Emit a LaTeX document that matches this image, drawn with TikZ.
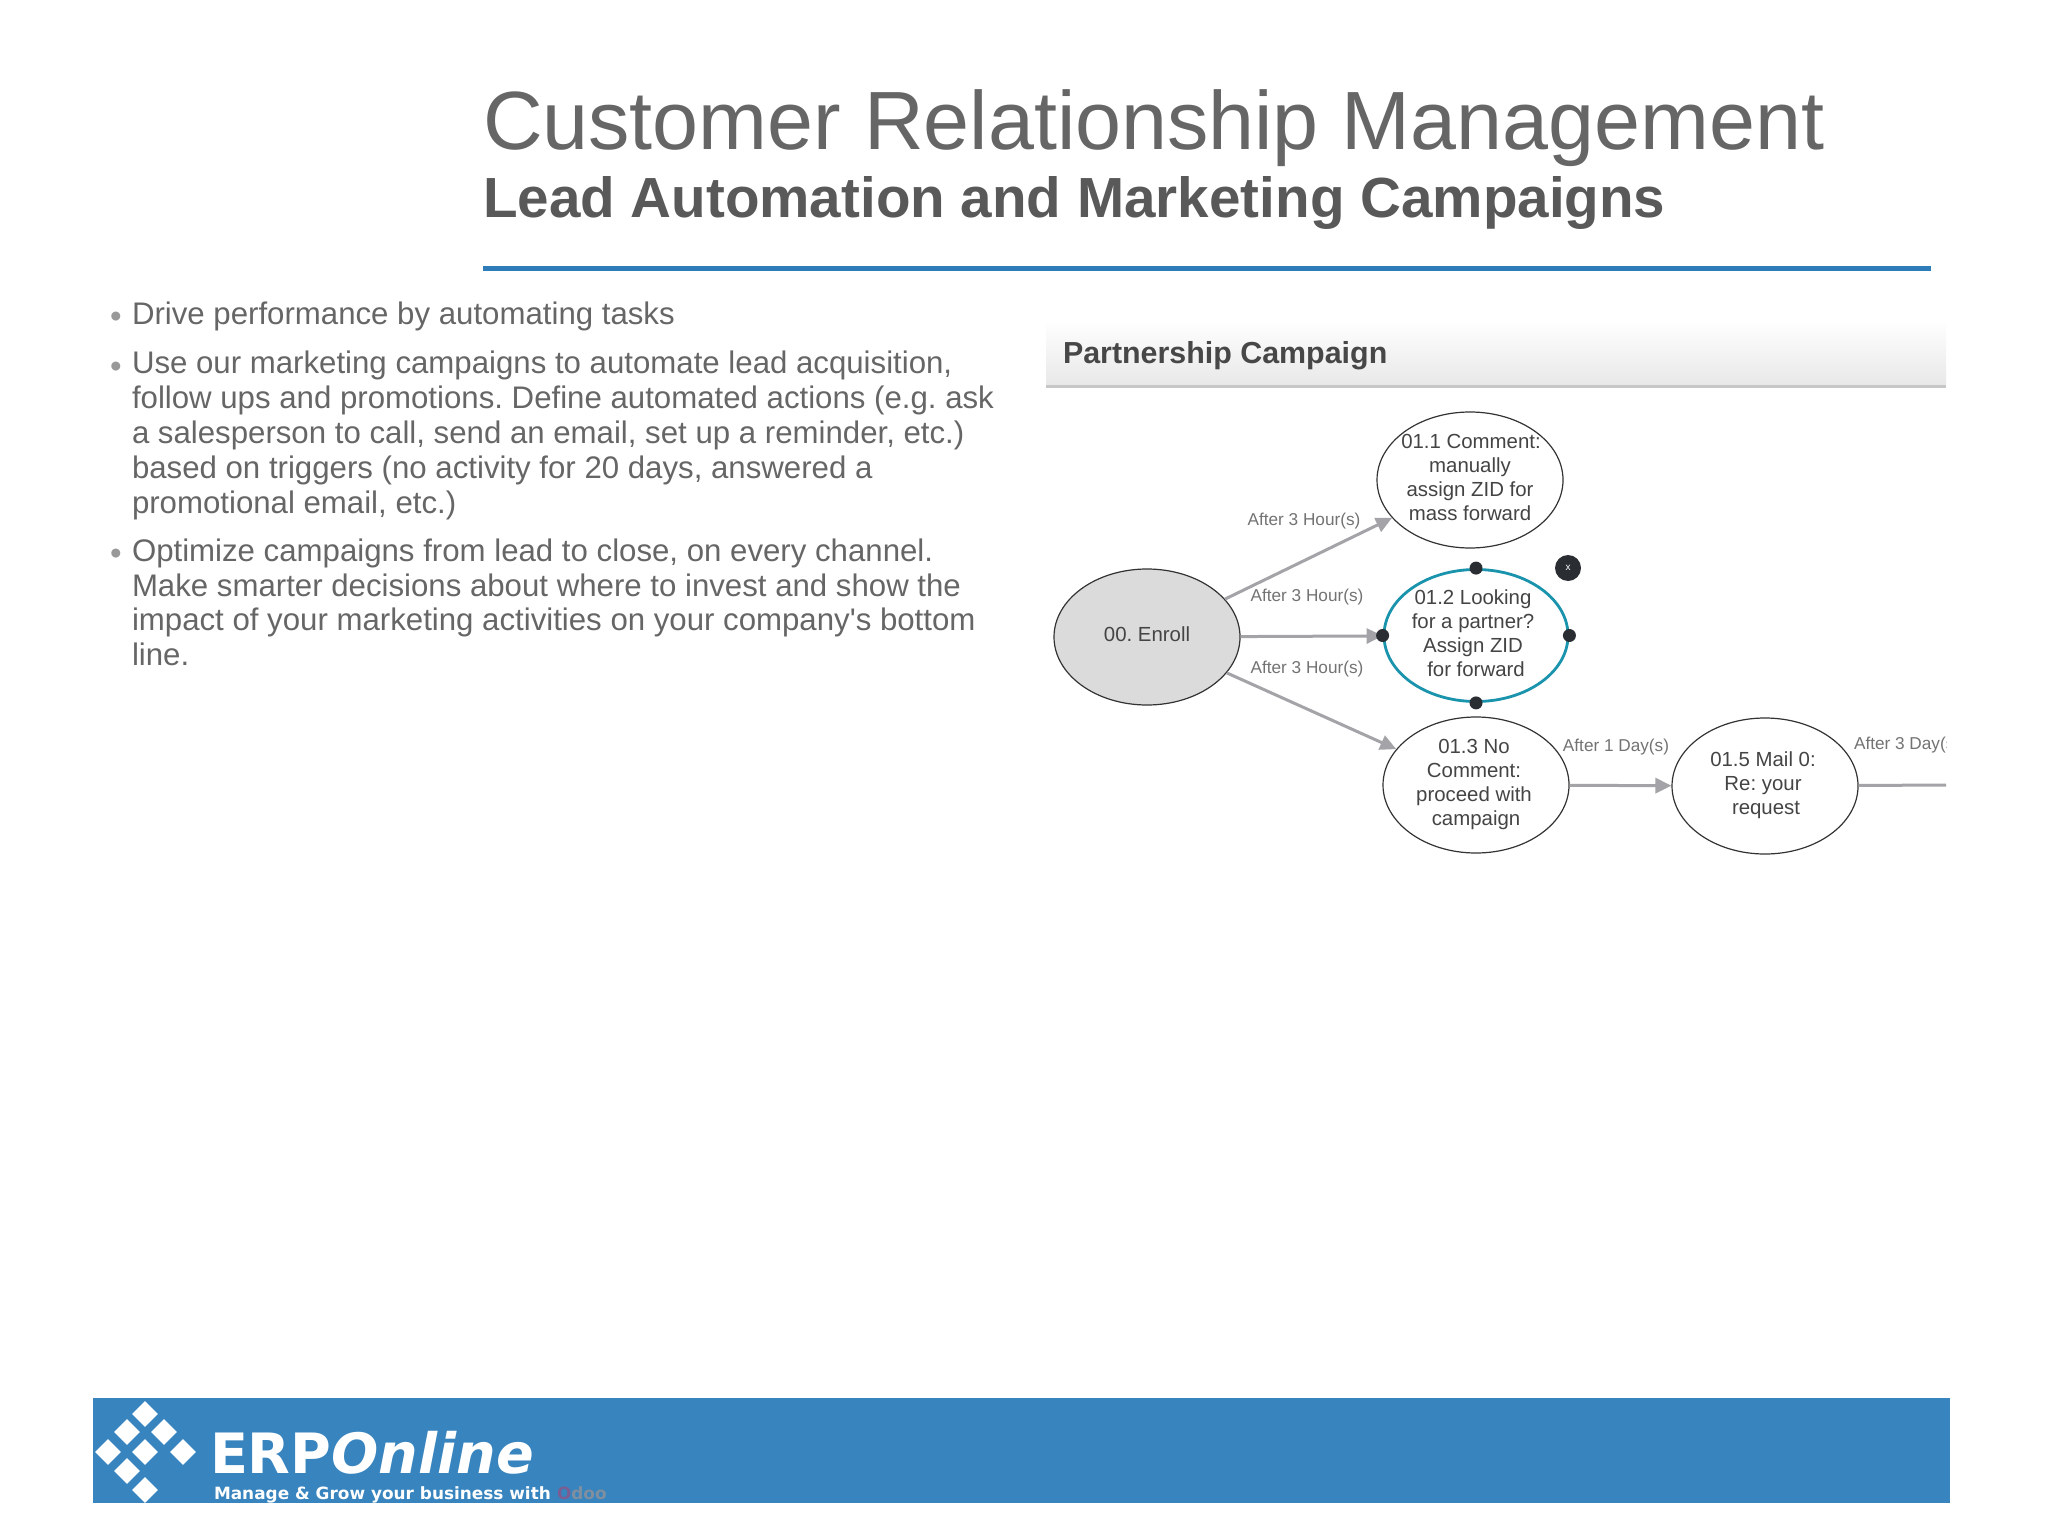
\documentclass[tikz,border=0pt]{standalone}
\usepackage{fontspec}
\usetikzlibrary{arrows.meta,shapes.geometric}
\setmainfont{Liberation Sans}
\newfontfamily\logofont{DejaVu Sans}
\definecolor{txt}{HTML}{666666}
\definecolor{subtxt}{HTML}{595959}
\definecolor{brandblue}{HTML}{3784BE}
\definecolor{ruleblue}{HTML}{2F7DB8}
\definecolor{edgegray}{HTML}{A3A3A8}
\definecolor{labelgray}{HTML}{737373}
\definecolor{nodetxt}{HTML}{444444}
\definecolor{nodeline}{HTML}{333333}
\definecolor{teal}{HTML}{1A93AD}
\definecolor{dotdark}{HTML}{2A2E33}
\newcommand{\ztext}[1]{\smash{\makebox[0pt]{\raisebox{-2.4pt}{\begin{tabular}[c]{@{}c@{}}#1\end{tabular}}}}}
\tikzset{
  plain/.style={inner sep=0pt,outer sep=0pt},
  bodytext/.style={plain,anchor=north west,align=left,text=txt,font=\fontsize{15.6}{17.45}\selectfont\frenchspacing},
  bulletmark/.style={plain,anchor=base west,text=black!40,font=\fontsize{16.5}{17.5}\selectfont},
  state/.style={ellipse,draw=nodeline,line width=.6pt,inner sep=0pt,minimum width=93pt,minimum height=68pt,text=nodetxt,font=\fontsize{10.2}{12}\selectfont\frenchspacing},
  edgelabel/.style={plain,text=labelgray,font=\fontsize{8.6}{10}\selectfont},
  flow/.style={draw=edgegray,line width=1.5pt,-{Triangle[length=8pt,width=7.5pt,fill=edgegray]}},
  handle/.style={circle,fill=dotdark,inner sep=0pt,minimum size=6.5pt},
  logodiamond/.style={diamond,fill=white,inner sep=0pt,minimum size=13pt}
}
\begin{document}
\begin{tikzpicture}[x=0.5pt,y=-0.5pt]
\useasboundingbox (0,0) rectangle (2048,1535);
\fill[white] (0,0) rectangle (2048,1535);
% heading
\node[plain,anchor=base west,text=txt,font=\fontsize{41.33}{48}\selectfont] (title) at (483,150) {Customer Relationship Management};
\node[plain,anchor=base west,text=subtxt,font=\fontsize{28.3}{33}\selectfont\bfseries] (subtitle) at (483,218) {Lead Automation and Marketing Campaigns};
\fill[ruleblue] (483,266) rectangle (1931,271);
% bullets
\node[bulletmark] (b1) at (110,328) {•};
\node[bulletmark] (b2) at (110,377) {•};
\node[bulletmark] (b3) at (110,564) {•};
\node[bodytext] (p1) at (132,302) {Drive performance by automating tasks};
\node[bodytext] (p2) at (132,351) {Use our marketing campaigns to automate lead acquisition,\\follow ups and promotions. Define automated actions (e.g. ask\\a salesperson to call, send an email, set up a reminder, etc.)\\based on triggers (no activity for 20 days, answered a\\promotional email, etc.)};
\node[bodytext] (p3) at (132,538.5) {Optimize campaigns from lead to close, on every channel.\\Make smarter decisions about where to invest and show the\\impact of your marketing activities on your company\textquotesingle s bottom\\line.};
% panel
\shade[top color=white,bottom color=black!9] (1046,320) rectangle (1946,385);
\fill[black!22] (1046,385) rectangle (1946,388);
\node[plain,anchor=base west,text=black!72,font=\fontsize{15.2}{18}\selectfont\bfseries] (panel) at (1063,364) {Partnership Campaign};
% states
\node[state,fill=black!14] (enroll) at (1147,637) {\ztext{00. Enroll}};
\node[state] (n1) at (1470,480) {\ztext{\hspace{1pt}01.1 Comment:\\manually\\assign ZID for\\mass forward}};
\node[state,draw=teal,line width=1.4pt,minimum width=92pt,minimum height=66pt] (n2) at (1476,635.5) {\ztext{\hspace{-3pt}01.2 Looking\\\hspace{-3pt}for a partner?\\\hspace{-3pt}Assign ZID\\for forward}};
\node[state] (n3) at (1476,785) {\ztext{\hspace{-2pt}01.3 No\\\hspace{-2pt}Comment:\\\hspace{-2pt}proceed with\\campaign}};
\node[state] (n5) at (1765,786) {\ztext{\hspace{-2pt}01.5 Mail 0:\\\hspace{-2pt}Re: your\\\hspace{1pt}request}};
\coordinate (off) at (1946,785);
% connectors
\draw[flow] (enroll) -- (n1);
\draw[flow] (enroll) -- (n2);
\draw[flow] (enroll) -- (n3);
\draw[flow] (n3) -- (n5);
\draw[draw=edgegray,line width=1.5pt] (n5) -- (off);
% handles
\node[handle] (h1) at (n2.north) {};
\node[handle] (h2) at (n2.south) {};
\node[handle] (h3) at (n2.west) {};
\node[handle] (h4) at (n2.east) {};
\node[circle,fill=dotdark,inner sep=0pt,minimum size=13pt,text=white,font=\fontsize{5}{6}\selectfont] (close) at (1568,568) {x};
% labels
\node[edgelabel] (l1) at (1304,521) {After 3 Hour(s)};
\node[edgelabel] (l2) at (1307,597) {After 3 Hour(s)};
\node[edgelabel] (l3) at (1307,669) {After 3 Hour(s)};
\node[edgelabel] (l4) at (1616,747) {After 1 Day(s)};
\begin{scope}
\clip (1800,700) rectangle (1946,780);
\node[edgelabel,anchor=west] (l5) at (1854,745) {After 3 Day(s)};
\end{scope}
% footer
\fill[brandblue] (93,1398) rectangle (1949.5,1503);
\foreach \px/\py [count=\i] in {145/1414,127/1432,164/1432,108/1452,145/1452,183/1452,127/1471,145/1490}
  \node[logodiamond] (d\i) at (\px,\py) {};
\node[plain,anchor=base west,text=white,font=\logofont\fontsize{27.8}{32}\selectfont\bfseries] (brand) at (210,1473) {ERP\textit{Online}};
\node[plain,anchor=base west,text=white,font=\logofont\fontsize{8.45}{10}\selectfont\bfseries] (tag) at (214,1499) {Manage \& Grow your business with};
\node[plain,anchor=base west,font=\logofont\fontsize{8.45}{10}\selectfont\bfseries] (odoo) at (557,1499) {\textcolor[HTML]{7A5E93}{O}\textcolor[HTML]{7F8FA0}{doo}};
\end{tikzpicture}
\end{document}
